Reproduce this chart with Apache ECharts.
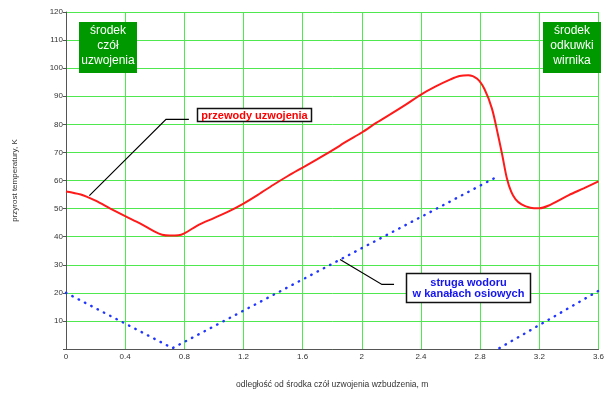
<!DOCTYPE html>
<html><head><meta charset="utf-8">
<script src="https://cdn.jsdelivr.net/npm/echarts@6/dist/echarts.min.js"></script>
<style>html,body{margin:0;padding:0;background:#fff}#c{width:607px;height:394px}</style>
</head><body><div id="c"></div>
<script>
// ---- data ----
const xTickLabels = ['0','0.4','0.8','1.2','1.6','2','2.4','2.8','3.2','3.6'];
const redX = [0, 0.1, 0.2, 0.3, 0.4, 0.5, 0.6, 0.65, 0.7, 0.76, 0.8, 0.9, 1.0, 1.1, 1.2, 1.3, 1.4, 1.5, 1.6, 1.7, 1.8, 1.9, 2.0, 2.1, 2.2, 2.3, 2.4, 2.5, 2.6, 2.66, 2.72, 2.78, 2.83, 2.88, 2.92, 2.95, 2.98, 3.01, 3.04, 3.08, 3.14, 3.2, 3.26, 3.4, 3.5, 3.6];
const redY = [56.1, 55, 52.8, 50, 47.3, 44.7, 41.8, 40.7, 40.4, 40.5, 41.2, 44.3, 46.6, 49, 51.8, 55, 58.4, 61.6, 64.6, 67.6, 70.7, 74, 77.1, 80.6, 83.8, 87.1, 90.6, 93.5, 96.0, 97.2, 97.5, 96.2, 92.5, 85.6, 76.5, 69, 61, 56, 53.3, 51.5, 50.3, 50.1, 51, 54.8, 57.2, 59.7];
const blueAX = [0, 0.72, 2.92];
const blueAY = [20, 0.3, 61.5];
const blueBX = [2.93, 3.6];
const blueBY = [0.3, 20.7];
// annotation leader anchors (data coordinates)
const redLeader = [[0.158, 54.6], [0.676, 81.8], [0.831, 81.8]];
const blueLeader = [[1.853, 31.9], [2.136, 23.0], [2.218, 23.0]];

const zip = (xs, ys) => xs.map((x, i) => [x, ys[i]]);
const chart = echarts.init(document.getElementById('c'), null, {renderer: 'canvas'});
const FONT = '"Liberation Sans", Arial, sans-serif';
const GRID = '#4fe84f';

chart.setOption({
  animation: false,
  grid: {left: 66, right: 3, top: 12, bottom: 42},
  xAxis: {
    type: 'value', min: 0, max: 3.6, interval: 0.4,
    name: 'odległość od środka czół uzwojenia wzbudzenia, m',
    nameLocation: 'middle', nameGap: 31,
    nameTextStyle: {fontFamily: FONT, fontSize: 8.5, color: '#333'},
    axisLine: {lineStyle: {color: '#555', width: 1}},
    axisTick: {show: false},
    axisLabel: {fontFamily: FONT, fontSize: 8, color: '#333', margin: 4,
      formatter: v => xTickLabels[Math.round(v / 0.4)] ?? ''},
    splitLine: {show: true, lineStyle: {color: GRID, width: 1}}
  },
  yAxis: {
    type: 'value', min: 0, max: 120, interval: 10,
    name: 'przyrost temperatury, K',
    nameLocation: 'middle', nameGap: 47,
    nameTextStyle: {fontFamily: FONT, fontSize: 8, color: '#333'},
    axisLine: {show: true, lineStyle: {color: '#555', width: 1}},
    axisTick: {show: true, length: 3, lineStyle: {color: '#555'}},
    axisLabel: {fontFamily: FONT, fontSize: 8, color: '#333', margin: 3,
      formatter: v => v === 0 ? '' : String(v)},
    splitLine: {show: true, lineStyle: {color: GRID, width: 1}}
  },
  series: [
    {type: 'line', data: zip(redX, redY), smooth: 0.3, showSymbol: false,
     lineStyle: {color: '#ff1a1a', width: 2}, z: 3},
    {type: 'line', data: zip(blueAX, blueAY), showSymbol: false,
     lineStyle: {color: '#2036ff', width: 2.4, type: [0.5, 6.6], cap: 'round'}, z: 3},
    {type: 'line', data: zip(blueBX, blueBY), showSymbol: false,
     lineStyle: {color: '#2036ff', width: 2.4, type: [0.5, 6.6], cap: 'round'}, z: 3}
  ]
});

const px = p => chart.convertToPixel({gridIndex: 0}, p);
chart.setOption({
  graphic: [
    {type: 'polyline', shape: {points: redLeader.map(px)}, style: {stroke: '#000', lineWidth: 1.2, fill: null}, z: 10},
    {type: 'polyline', shape: {points: blueLeader.map(px)}, style: {stroke: '#000', lineWidth: 1.2, fill: null}, z: 10},
    {type: 'rect', shape: {x: 79, y: 22, width: 58, height: 51}, style: {fill: '#009900'}, z: 10},
    {type: 'text', x: 108, y: 45.5, z: 11,
     style: {text: 'środek\nczół\nuzwojenia', fill: '#fff', fontSize: 12, fontFamily: FONT, align: 'center', verticalAlign: 'middle', lineHeight: 14.7}},
    {type: 'rect', shape: {x: 543, y: 22, width: 58, height: 51}, style: {fill: '#009900'}, z: 10},
    {type: 'text', x: 572, y: 45.5, z: 11,
     style: {text: 'środek\nodkuwki\nwirnika', fill: '#fff', fontSize: 12, fontFamily: FONT, align: 'center', verticalAlign: 'middle', lineHeight: 14.7}},
    {type: 'rect', shape: {x: 197.5, y: 108.5, width: 114, height: 13}, style: {fill: '#fff', stroke: '#111', lineWidth: 1.5}, z: 10},
    {type: 'text', x: 254.5, y: 115.5, z: 11,
     style: {text: 'przewody uzwojenia', fill: '#ff0000', fontSize: 11, fontWeight: 'bold', fontFamily: FONT, align: 'center', verticalAlign: 'middle'}},
    {type: 'rect', shape: {x: 406.5, y: 273.5, width: 124, height: 29}, style: {fill: '#fff', stroke: '#111', lineWidth: 1.5}, z: 10},
    {type: 'text', x: 468.5, y: 288.5, z: 11,
     style: {text: 'struga wodoru\nw kanałach osiowych', fill: '#1414f0', fontSize: 11, fontWeight: 'bold', fontFamily: FONT, align: 'center', verticalAlign: 'middle', lineHeight: 11.7}}
  ]
});
</script></body></html>
